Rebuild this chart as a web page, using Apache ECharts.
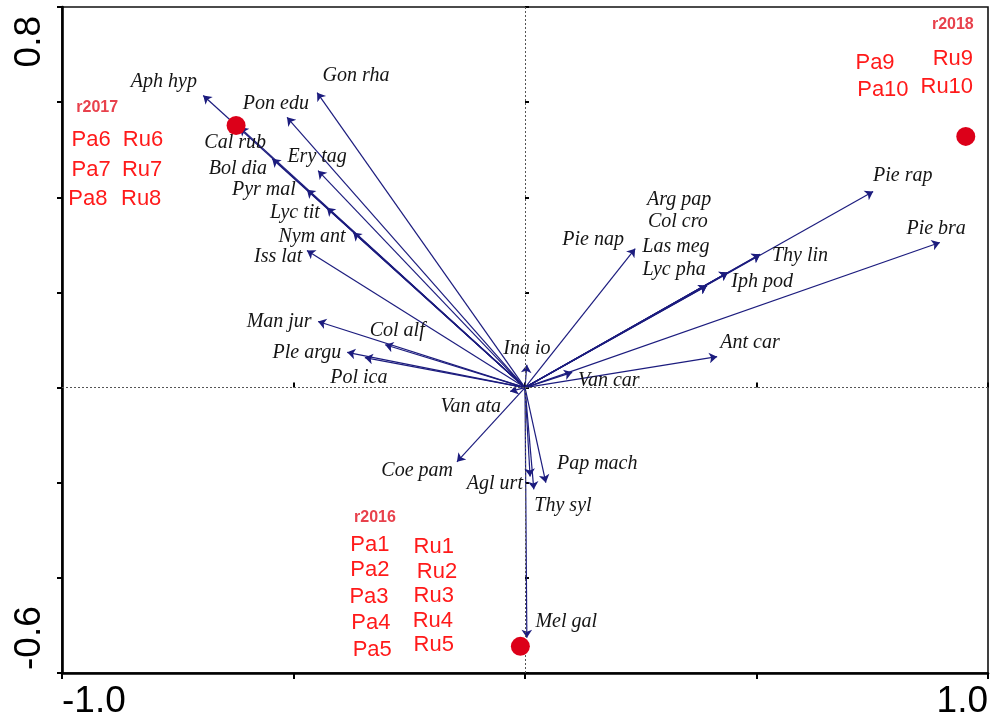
<!DOCTYPE html>
<html>
<head>
<meta charset="utf-8">
<script src="https://cdn.jsdelivr.net/npm/echarts@6.0.0/dist/echarts.min.js"></script>
<style>
  html, body { margin: 0; padding: 0; background: #fff; }
  #chart { width: 992px; height: 721px; }
</style>
</head>
<body>
<div id="chart"></div>
<script>
// ---- CCA biplot data: species arrows (axis 1, axis 2 scores) ----
const speciesNames = [
  'Aph hyp', 'Gon rha', 'Pon edu', 'Cal rub', 'Bol dia', 'Ery tag', 'Pyr mal', 'Lyc tit',
  'Nym ant', 'Iss lat', 'Man jur', 'Col alf', 'Ple argu', 'Pol ica', 'Van ata', 'Coe pam',
  'Ina io', 'Van car', 'Agl urt', 'Pap mach', 'Thy syl', 'Mel gal', 'Pie nap', 'Arg pap',
  'Col cro', 'Las meg', 'Lyc pha', 'Thy lin', 'Iph pod', 'Pie rap', 'Pie bra', 'Ant car'
];
const speciesAxis1 = [
  -0.695, -0.449, -0.514, -0.616, -0.546, -0.447, -0.471, -0.428,
  -0.371, -0.471, -0.447, -0.302, -0.384, -0.346, -0.032, -0.147,
   0.004,  0.102,  0.011,  0.045,  0.019,  0.004,  0.238,  0.508,
   0.438,  0.393,  0.393,  0.508,  0.438,  0.752,  0.896,  0.415
];
const speciesAxis2 = [
   0.614,  0.620,  0.568,  0.547,  0.481,  0.456,  0.416,  0.378,
   0.326,  0.288,  0.139,  0.090,  0.074,  0.063, -0.008, -0.156,
   0.048,  0.032, -0.187, -0.200, -0.214, -0.526,  0.292,  0.280,
   0.242,  0.214,  0.214,  0.280,  0.242,  0.412,  0.305,  0.065
];
// where each species name is written (axis units)
const speciesLabelX = [
  -0.780, -0.365, -0.538, -0.626, -0.620, -0.449, -0.564, -0.497,
  -0.460, -0.533, -0.531, -0.276, -0.471, -0.359, -0.117, -0.233,
   0.004,  0.181, -0.065,  0.156,  0.082,  0.089,  0.147,  0.333,
   0.330,  0.326,  0.322,  0.594,  0.512,  0.816,  0.888,  0.486
];
const speciesLabelY = [
   0.643,  0.656,  0.597,  0.515,  0.460,  0.486,  0.416,  0.368,
   0.317,  0.275,  0.139,  0.120,  0.074,  0.021, -0.040, -0.174,
   0.082,  0.015, -0.202, -0.160, -0.248, -0.492,  0.311,  0.395,
   0.349,  0.296,  0.248,  0.277,  0.223,  0.446,  0.334,  0.095
];

// ---- year centroids ----
const yearNames = ['r2016', 'r2017', 'r2018'];
const yearAxis1 = [-0.010, -0.624, 0.952];
const yearAxis2 = [-0.544, 0.551, 0.528];
const yearLabelX = [-0.324, -0.924, 0.924];
const yearLabelY = [-0.273, 0.589, 0.763];

// ---- plot (sample) names grouped by year ----
const plotNames = [
  'Pa1', 'Ru1', 'Pa2', 'Ru2', 'Pa3', 'Ru3', 'Pa4', 'Ru4', 'Pa5', 'Ru5',
  'Pa6', 'Ru6', 'Pa7', 'Ru7', 'Pa8', 'Ru8',
  'Pa9', 'Ru9', 'Pa10', 'Ru10'
];
const plotLabelX = [
  -0.335, -0.197, -0.335, -0.190, -0.337, -0.197, -0.333, -0.199, -0.330, -0.197,
  -0.937, -0.825, -0.937, -0.827, -0.944, -0.829,
   0.756,  0.924,  0.773,  0.911
];
const plotLabelY = [
  -0.330, -0.334, -0.383, -0.387, -0.441, -0.437, -0.494, -0.490, -0.551, -0.542,
   0.521,  0.521,  0.458,  0.458,  0.397,  0.397,
   0.683,  0.690,  0.626,  0.631
];

// ---- axes ----
const xMin = -1.0, xMax = 1.0, xStep = 0.5;
const yMin = -0.6, yMax = 0.8, yStep = 0.2;
const xTickLabels = ['-1.0', '1.0'];
const yTickLabels = ['-0.6', '0.8'];

const ARROW = '#1c1c7e';
const RED = '#ff1a1a';

function endLabel(v, lo, hi, labels) {
  if (Math.abs(v - lo) < 1e-9) return labels[0];
  if (Math.abs(v - hi) < 1e-9) return labels[1];
  return '';
}

const chart = echarts.init(document.getElementById('chart'), null, { renderer: 'canvas' });

const grid = { left: 62, right: 4, top: 7, bottom: 48, show: true, borderColor: '#111', borderWidth: 1.6 };

const option = {
  animation: false,
  backgroundColor: '#ffffff',
  grid: grid,
  xAxis: [
    {
      type: 'value', min: xMin, max: xMax, interval: xStep, position: 'bottom',
      axisLine: { onZero: false, lineStyle: { color: '#000', width: 2.6 } },
      axisTick: { show: true, length: 6, lineStyle: { color: '#000', width: 2 } },
      splitLine: { show: false },
      axisLabel: {
        color: '#000', fontSize: 37, fontFamily: 'Liberation Sans', margin: 10,
        alignMinLabel: 'left', alignMaxLabel: 'right',
        formatter: v => endLabel(v, xMin, xMax, xTickLabels)
      }
    },
    {
      type: 'value', min: xMin, max: xMax, interval: xStep, position: 'bottom', offset: 0,
      axisLine: { show: false },
      axisTick: { show: true, inside: true, length: 5, lineStyle: { color: '#000', width: 2 } },
      splitLine: { show: false },
      axisLabel: { show: false }
    }
  ],
  yAxis: [
    {
      type: 'value', min: yMin, max: yMax, interval: yStep, position: 'left',
      axisLine: { onZero: false, lineStyle: { color: '#000', width: 2.6 } },
      axisTick: { show: true, length: 5, lineStyle: { color: '#000', width: 2 } },
      splitLine: { show: false },
      axisLabel: {
        color: '#000', fontSize: 37, fontFamily: 'Liberation Sans', margin: 14, rotate: 90,
        alignMinLabel: 'left', alignMaxLabel: 'right', padding: [0, 9, 0, 3],
        formatter: v => endLabel(v, yMin, yMax, yTickLabels)
      }
    },
    {
      type: 'value', min: yMin, max: yMax, interval: yStep, position: 'left', offset: 0,
      axisLine: { show: false },
      axisTick: { show: true, inside: true, length: 4, lineStyle: { color: '#000', width: 2 } },
      splitLine: { show: false },
      axisLabel: { show: false }
    }
  ],
  series: [
    // zero reference lines
    {
      type: 'line', data: [], silent: true,
      markLine: {
        silent: true, symbol: 'none', label: { show: false },
        lineStyle: { color: '#555', type: [2, 2], width: 1 },
        data: [{ xAxis: 0 }, { yAxis: 0 }]
      }
    },
    // species arrows from the origin
    {
      type: 'lines', coordinateSystem: 'cartesian2d', silent: true, z: 3,
      symbol: ['none', 'arrow'], symbolSize: 8,
      lineStyle: { color: ARROW, width: 1.2, opacity: 1, curveness: 0 },
      data: speciesNames.map((n, i) => ({ coords: [[0, 0], [speciesAxis1[i], speciesAxis2[i]]] }))
    },
    // species names
    {
      type: 'scatter', symbolSize: 0, silent: true, z: 4,
      itemStyle: { opacity: 1 },
      data: speciesNames.map((n, i) => ({ name: n, value: [speciesLabelX[i], speciesLabelY[i]] })),
      label: {
        show: true, position: 'inside', formatter: p => p.name, opacity: 1,
        fontFamily: 'Liberation Serif', fontStyle: 'italic', fontSize: 20, color: '#141414'
      }
    },
    // year centroids
    {
      type: 'scatter', symbol: 'circle', symbolSize: 19, silent: true, z: 5,
      itemStyle: { color: '#dc0019', opacity: 1 },
      data: yearNames.map((n, i) => ({ name: n, value: [yearAxis1[i], yearAxis2[i]] }))
    },
    // year names
    {
      type: 'scatter', symbolSize: 0, silent: true, z: 4,
      itemStyle: { opacity: 1 },
      data: yearNames.map((n, i) => ({ name: n, value: [yearLabelX[i], yearLabelY[i]] })),
      label: {
        show: true, position: 'inside', formatter: p => p.name, opacity: 1,
        fontFamily: 'Liberation Sans', fontWeight: 'bold', fontSize: 16, color: '#e8414c'
      }
    },
    // plot names
    {
      type: 'scatter', symbolSize: 0, silent: true, z: 4,
      itemStyle: { opacity: 1 },
      data: plotNames.map((n, i) => ({ name: n, value: [plotLabelX[i], plotLabelY[i]] })),
      label: {
        show: true, position: 'inside', formatter: p => p.name, opacity: 1,
        fontFamily: 'Liberation Sans', fontSize: 22, color: RED
      }
    }
  ]
};

chart.setOption(option);
</script>
</body>
</html>
